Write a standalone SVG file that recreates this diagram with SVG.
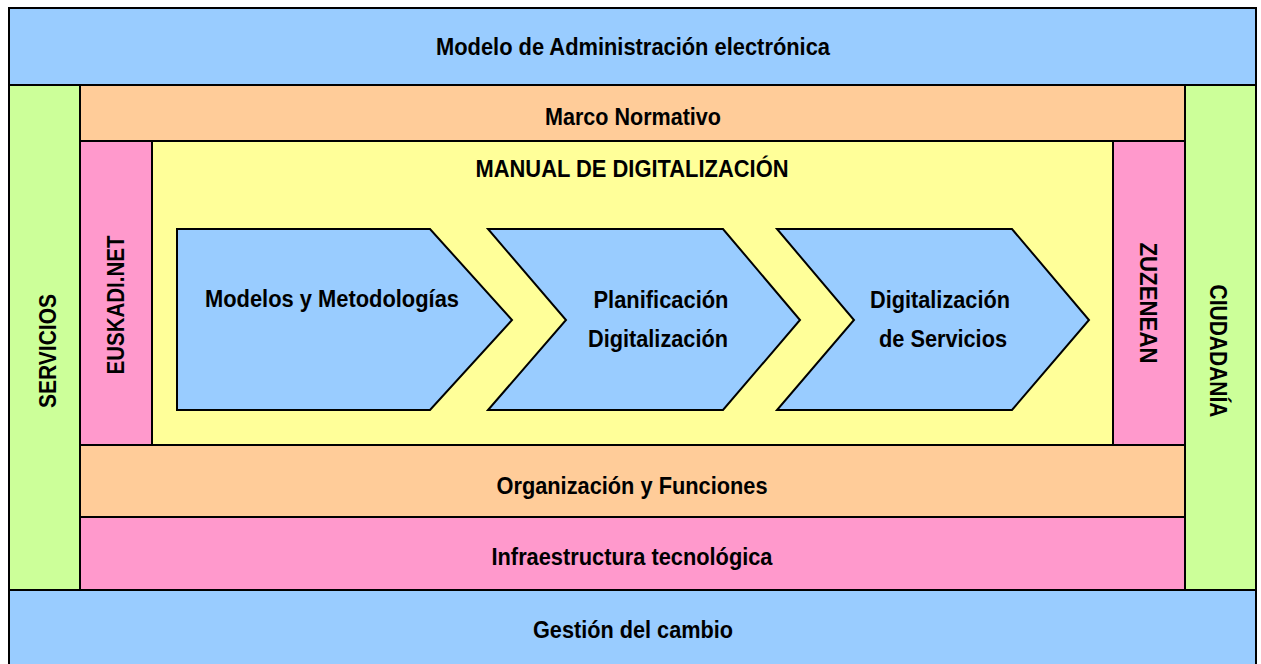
<svg xmlns="http://www.w3.org/2000/svg" width="1261" height="664" viewBox="0 0 1261 664">
<style>
.b{stroke:#000;stroke-width:2}
.blue{fill:#99ccff}.green{fill:#ccff99}.orange{fill:#ffcc99}.pink{fill:#ff99cc}.yellow{fill:#ffff99}
text{font-family:"Liberation Sans",Arial,sans-serif;font-weight:bold;font-size:23.5px;fill:#000;text-anchor:middle}
</style>
<rect width="1261" height="664" fill="#fff"/>
<g id="admin"><rect class="b blue" x="9" y="8" width="1247" height="77"/><text x="633" y="55" textLength="394" lengthAdjust="spacingAndGlyphs">Modelo de Administración electrónica</text></g>
<g id="servicios"><rect class="b green" x="9" y="85" width="71" height="505"/><text transform="translate(56,351) rotate(-90)" textLength="114" lengthAdjust="spacingAndGlyphs">SERVICIOS</text></g>
<g id="ciudadania"><rect class="b green" x="1185" y="85" width="71" height="505"/><text transform="translate(1210,351) rotate(90)" textLength="133" lengthAdjust="spacingAndGlyphs">CIUDADANÍA</text></g>
<g id="marco"><rect class="b orange" x="80" y="85" width="1105" height="56"/><text x="633" y="125" textLength="176" lengthAdjust="spacingAndGlyphs">Marco Normativo</text></g>
<g id="euskadi"><rect class="b pink" x="80" y="141" width="72" height="304"/><text transform="translate(124,305) rotate(-90)" textLength="139" lengthAdjust="spacingAndGlyphs">EUSKADI.NET</text></g>
<g id="zuzenean"><rect class="b pink" x="1113" y="141" width="72" height="304"/><text transform="translate(1140,303) rotate(90)" textLength="121" lengthAdjust="spacingAndGlyphs">ZUZENEAN</text></g>
<g id="manual"><rect class="b yellow" x="152" y="141" width="961" height="304"/><text x="632" y="177" textLength="313" lengthAdjust="spacingAndGlyphs">MANUAL DE DIGITALIZACIÓN</text></g>
<g id="modelos"><polygon class="b blue" points="177,229 430,229 512,320 430,410 177,410"/><text x="332" y="307" textLength="254" lengthAdjust="spacingAndGlyphs">Modelos y Metodologías</text></g>
<g id="planificacion"><polygon class="b blue" points="488,229 723,229 800,320 723,410 488,410 566,320"/><text x="661" y="308" textLength="135" lengthAdjust="spacingAndGlyphs">Planificación</text><text x="658" y="347" textLength="140" lengthAdjust="spacingAndGlyphs">Digitalización</text></g>
<g id="digitalizacion"><polygon class="b blue" points="777,229 1012,229 1089,320 1012,410 777,410 854,320"/><text x="940" y="308" textLength="140" lengthAdjust="spacingAndGlyphs">Digitalización</text><text x="943" y="347" textLength="128" lengthAdjust="spacingAndGlyphs">de Servicios</text></g>
<g id="organizacion"><rect class="b orange" x="80" y="445" width="1105" height="72"/><text x="632" y="494" textLength="271" lengthAdjust="spacingAndGlyphs">Organización y Funciones</text></g>
<g id="infra"><rect class="b pink" x="80" y="517" width="1105" height="73"/><text x="632" y="565" textLength="281" lengthAdjust="spacingAndGlyphs">Infraestructura tecnológica</text></g>
<g id="gestion"><rect class="b blue" x="9" y="590" width="1247" height="80"/><text x="633" y="638" textLength="200" lengthAdjust="spacingAndGlyphs">Gestión del cambio</text></g>
<g id="connectors"/>
</svg>
